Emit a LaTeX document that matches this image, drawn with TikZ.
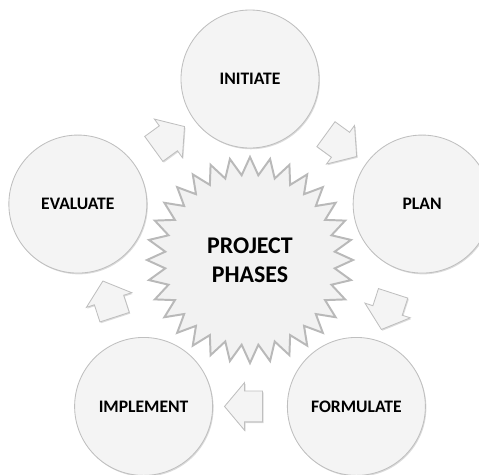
\documentclass[tikz,border=0pt]{standalone}
\usepackage{fontspec}
\setmainfont{Carlito}
\usetikzlibrary{shapes.geometric,shapes.arrows,shadows,calc}

\tikzset{
  phase/.style={circle, draw=gray!50, line width=0.6pt, fill=gray!9,
    minimum size=3.45cm, inner sep=0pt,
    font=\bfseries\fontsize{12.5}{14}\selectfont,
    drop shadow={shadow xshift=0.7pt, shadow yshift=-0.9pt, opacity=0.35, fill=gray!80}},
  hub/.style={star, star points=32, star point ratio=1.21, draw=gray!55,
    line width=1.4pt, fill=gray!10, minimum size=5.15cm, inner sep=0pt,
    align=center, font=\bfseries\fontsize{17}{20.5}\selectfont},
  flow/.style={single arrow, draw=gray!50, line width=0.6pt, fill=gray!9,
    minimum height=0.95cm, inner xsep=0pt, inner ysep=0.375cm,
    single arrow head extend=0.21cm, single arrow tip angle=100,
    drop shadow={shadow xshift=0.7pt, shadow yshift=-0.9pt, opacity=0.35, fill=gray!80}}
}

\begin{document}
\begin{tikzpicture}
  \useasboundingbox (-6.25,-5.35) rectangle (5.725,6.5);
  \clip (-6.25,-5.35) rectangle (5.725,6.5);
  \node[hub] (hub) at (0,0) {PROJECT\\PHASES};
  \path
    (90:4.525) node[phase] (initiate) {INITIATE}
    (18:4.525) node[phase] (plan) {PLAN}
    (-54:4.525) node[phase] (formulate) {FORMULATE}
    (-126:4.525) node[phase] (implement) {IMPLEMENT}
    (162:4.525) node[phase] (evaluate) {EVALUATE};
  % block arrows halfway between neighbouring phases
  \node[flow, rotate=-36] (toplan) at ($(initiate)!0.5!(plan)$) {};
  \node[flow, rotate=-108] (toformulate) at ($(plan)!0.5!(formulate)$) {};
  \node[flow, rotate=180] (toimplement) at ($(formulate)!0.5!(implement)$) {};
  \node[flow, rotate=108] (toevaluate) at ($(implement)!0.5!(evaluate)$) {};
  \node[flow, rotate=36] (toinitiate) at ($(evaluate)!0.5!(initiate)$) {};
\end{tikzpicture}
\end{document}
